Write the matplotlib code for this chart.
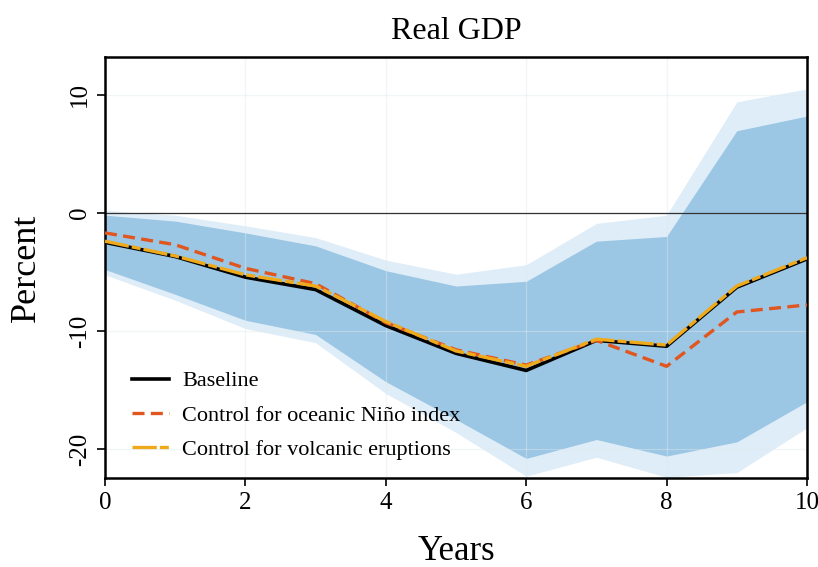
import matplotlib
matplotlib.use("Agg")
import matplotlib.pyplot as plt
import numpy as np

plt.rcParams['font.family'] = ['Liberation Serif', 'DejaVu Serif']
plt.rcParams['axes.unicode_minus'] = False

years = [0, 1, 2, 3, 4, 5, 6, 7, 8, 9, 10]
baseline = [-2.5, -3.7, -5.45, -6.5, -9.55, -11.9, -13.35, -10.8, -11.3, -6.3, -3.9]
nino = [-1.7, -2.7, -4.7, -6.0, -9.3, -11.6, -12.9, -10.8, -13.0, -8.4, -7.8]
volcanic = [-2.4, -3.65, -5.25, -6.2, -9.2, -11.7, -13.0, -10.7, -11.2, -6.2, -3.8]
inner_upper = [-0.2, -0.7, -1.7, -2.8, -4.9, -6.2, -5.8, -2.4, -2.0, 6.95, 8.2]
inner_lower = [-4.8, -6.9, -9.1, -10.3, -14.3, -17.5, -20.8, -19.2, -20.6, -19.4, -16.0]
outer_upper = [0.2, -0.2, -1.1, -2.1, -4.0, -5.2, -4.4, -0.9, -0.2, 9.4, 10.5]
outer_lower = [-5.25, -7.4, -9.8, -11.0, -15.3, -18.6, -22.3, -20.7, -22.4, -22.0, -18.2]

xticks = [0, 2, 4, 6, 8, 10]
yticks = [-20, -10, 0, 10]

fig = plt.figure(figsize=(8.18, 5.67), dpi=100)
ax = fig.add_axes([105/818, 1-478/567, 702/818, (478-57)/567])

ax.fill_between(years, outer_lower, outer_upper, color='#deedf7', lw=0, zorder=1)
ax.fill_between(years, inner_lower, inner_upper, color='#9bc6e4', lw=0, zorder=1.2)

for t in xticks:
    ax.axvline(t, color='#dfeaef', lw=0.9, alpha=0.45, zorder=1.5)
for t in yticks:
    ax.axhline(t, color='#dfeaef', lw=0.9, alpha=0.45, zorder=1.5)

ax.axhline(0, color='#333333', lw=0.9, zorder=2)

ax.plot(years, baseline, color='black', lw=2.6, label='Baseline', zorder=3)
ax.plot(years, nino, color='#e0561e', lw=2.4, ls=(0, (3.6, 1.9)),
        label='Control for oceanic Niño index', zorder=4)
ax.plot(years, volcanic, color='#efaa1c', lw=2.4, ls=(0, (7.3, 0.9, 2.7, 0.9)),
        label='Control for volcanic eruptions', zorder=5)

ax.set_xlim(0, 10)
ax.set_ylim(-22.46, 13.2)
ax.set_xticks(xticks)
ax.set_yticks(yticks)
ax.set_yticklabels([str(t) for t in yticks], rotation=90, va='center')
ax.tick_params(axis='both', direction='out', length=6, width=1.2, labelsize=18, colors='black')
ax.tick_params(axis='x', pad=4)
ax.tick_params(axis='y', pad=4)
for s in ax.spines.values():
    s.set_linewidth(1.8)
    s.set_color('black')

ax.set_title('Real GDP', fontsize=23, pad=13)
ax.set_xlabel('Years', fontsize=25, labelpad=15)
ax.set_ylabel('Percent', fontsize=26, labelpad=19)

leg = ax.legend(loc='lower left', bbox_to_anchor=(0.01, -0.005), frameon=False,
                fontsize=16, handlelength=1.65, handletextpad=0.6, labelspacing=0.62)

fig.savefig('out.png', dpi=100)
